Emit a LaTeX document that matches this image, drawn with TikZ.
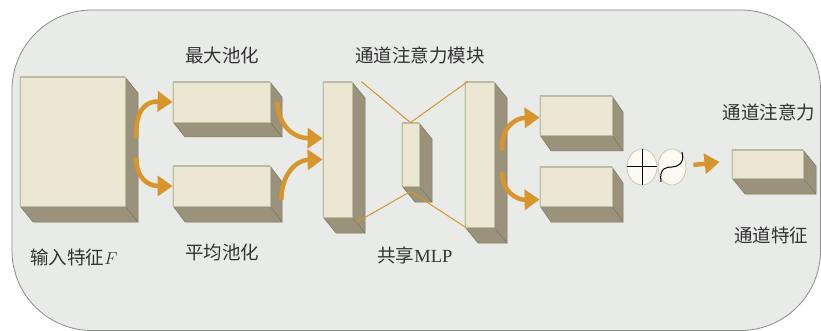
\documentclass[tikz,border=0pt]{standalone}
\usepackage{fontspec}
\newfontfamily\cjk{Noto Sans CJK SC}
\newfontfamily\latinserif{Liberation Serif}
\usetikzlibrary{arrows.meta,calc,fit,shapes.geometric}
\definecolor{bgc}{HTML}{E9EBE9}
\definecolor{framec}{HTML}{8C8C8C}
\definecolor{facec}{HTML}{ECE7D3}
\definecolor{faceedge}{HTML}{B8C0A0}
\definecolor{shadec}{HTML}{9B927C}
\definecolor{shadeedge}{HTML}{7E765F}
\definecolor{org}{HTML}{D7952C}
\definecolor{txt}{HTML}{333333}
\definecolor{opfill}{HTML}{FBFAF4}
\definecolor{opedge}{HTML}{CFC7A6}
\tikzset{
  front/.style={draw=faceedge, fill=facec, line width=0.8pt, inner sep=0pt},
  depth/.style={fill=shadec, draw=shadeedge, line width=0.5pt},
  flow/.style={draw=org, line width=4.5pt, -{Triangle[length=15pt,width=20pt]}},
  mlpline/.style={draw=org, line width=1pt},
  lab/.style={text=txt, font=\cjk\fontsize{18.5}{20}\selectfont, inner sep=0pt},
  opnode/.style={ellipse, draw=opedge, fill=opfill, line width=0.8pt, inner sep=0pt},
  opline/.style={draw=black, line width=1pt}
}
\newcommand\cuboid[7]{%
  \path[depth] (#2,#3) -- (#4,#3) -- ({#4+#6},{#3+#7}) -- ({#4+#6},{#5+#7}) -- ({#2+#6},{#5+#7}) -- (#2,#5) -- cycle;
  \draw[shadeedge, line width=0.6pt] (#4,#5) -- ({#4+#6},{#5+#7});
  \coordinate (#1-nw) at (#2,#3);
  \coordinate (#1-se) at (#4,#5);
  \node[front, fit=(#1-nw)(#1-se)] (#1) {};
}
\begin{document}
\begin{tikzpicture}[x=1pt,y=-1pt]
\useasboundingbox (0,0) rectangle (821,331);
\draw[fill=bgc, draw=framec, line width=0.8pt, rounded corners=80pt] (12,10) rectangle (820.5,330.5);

% boxes
\cuboid{inp}{20}{77}{125}{206}{13}{16}
\cuboid{mx}{173}{82}{270}{122}{12}{15}
\cuboid{av}{173}{166}{270}{206}{12}{16}
\cuboid{ca}{323}{82}{352}{217}{13}{16}
\cuboid{mid}{402}{123}{419}{186}{13}{16}
\cuboid{cb}{465}{82}{494}{227}{13}{16}
\cuboid{oa}{540}{96}{612}{135}{11}{16}
\cuboid{ob}{540}{167}{612}{206}{11}{16}
\cuboid{fin}{732}{150}{803}{178}{13}{16}

% shared MLP lines
\draw[mlpline] ($(ca.north east)+(9,0)$) -- (mid.north) -- ($(cb.north west)+(3,0)$);
\draw[mlpline] ($(ca.south east)+(4,5)$) -- ($(mid.south)+(0,5)$) -- ($(cb.south west)+(1,0)$);

% flow arrows
\draw[flow] ($(inp.east)+(11,-4)$) .. controls (135,110) and (146,101) .. (mx.west);
\draw[flow] ($(inp.east)+(11,16)$) .. controls (136,178) and (148,186) .. (av.west);
\draw[flow] ($(mx.east)+(7,0)$) .. controls (278,125) and (293,138) .. ($(ca.west)+(0,-11)$);
\draw[flow] ($(av.east)+(11,14)$) .. controls (281,175) and (296,160) .. ($(ca.west)+(0,10)$);
\draw[flow] ($(cb.east)+(8,-4)$) .. controls (500,128) and (515,118) .. ($(oa.west)+(0,2)$);
\draw[flow] ($(cb.east)+(8,18)$) .. controls (502,192) and (517,200) .. ($(ob.west)+(0,13)$);

% operators
\node[opnode, minimum width=30pt, minimum height=36pt] (e1) at (642,167) {};
\node[opnode, minimum width=28pt, minimum height=36pt] (e2) at (672,167) {};
\draw[opline] (e1.west) -- (e1.east);
\draw[opline] (e1.north) -- (e1.south);
\draw[opline] (661,182) .. controls (659,168) and (666,167) .. (672,167) .. controls (678,167) and (685,163) .. (682,152);
\draw[flow] ($(e2.east)+(7,-2)$) -- ($(fin.west)+(-12,-2)$);

% labels
\node[lab] (tmx) at (222,55) {最大池化};
\node[lab] (tav) at (222,252) {平均池化};
\node[lab] (tin) at (74,257) {输入特征$F$};
\node[lab] (tcam) at (420,55) {通道注意力模块};
\node[lab] (tmlp) at (415,255) {共享{\latinserif MLP}};
\node[lab] (tca) at (769,112) {通道注意力};
\node[lab] (tcf) at (771,235) {通道特征};
\end{tikzpicture}
\end{document}
